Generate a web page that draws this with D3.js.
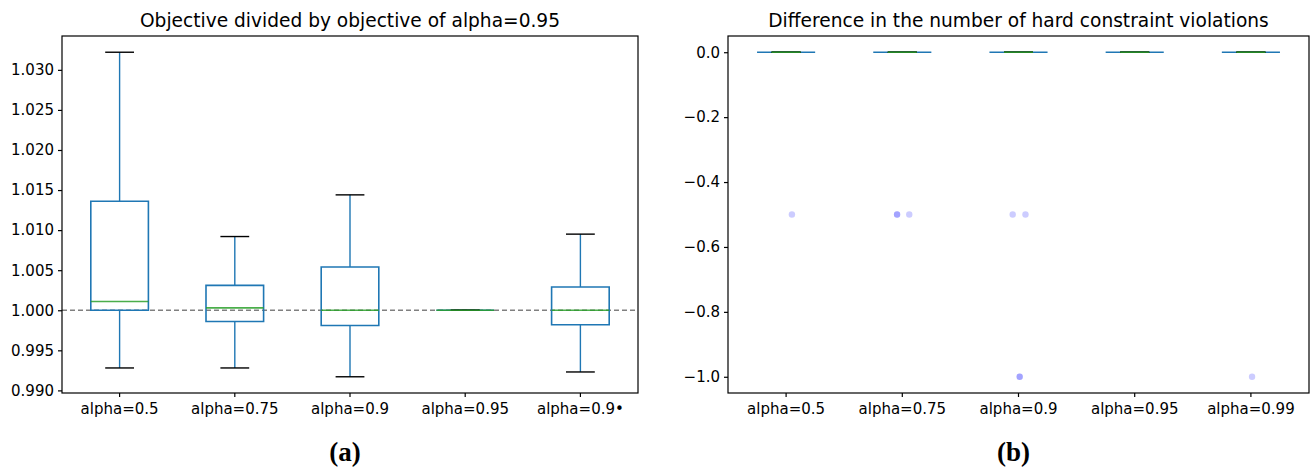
<!DOCTYPE html>
<html>
<head>
<meta charset="utf-8">
<script src="https://cdn.jsdelivr.net/npm/d3@7/dist/d3.min.js"></script>
<style>
  body { margin: 0; background: #fff; }
  svg { display: block; }
  text { font-family: "DejaVu Sans", sans-serif; fill: #000; }
</style>
</head>
<body>
<svg id="chart" width="1311" height="469"></svg>
<script>
// ---------- Data ----------
const categoriesA = ["alpha=0.5", "alpha=0.75", "alpha=0.9", "alpha=0.95", "alpha=0.9•"];
const whiskerLowA  = [0.9928, 0.9928, 0.9917, 1.0000, 0.9923];
const q1A          = [1.0000, 0.9986, 0.9981, 1.0000, 0.9982];
const medianA      = [1.0011, 1.0003, 1.0000, 1.0000, 1.0000];
const q3A          = [1.0136, 1.0031, 1.0054, 1.0000, 1.0029];
const whiskerHighA = [1.0322, 1.0092, 1.0144, 1.0000, 1.0095];
const yTicksA = [0.990, 0.995, 1.000, 1.005, 1.010, 1.015, 1.020, 1.025, 1.030];
const referenceLineA = 1.0;

const categoriesB = ["alpha=0.5", "alpha=0.75", "alpha=0.9", "alpha=0.95", "alpha=0.99"];
const whiskerLowB  = [0, 0, 0, 0, 0];
const q1B          = [0, 0, 0, 0, 0];
const medianB      = [0, 0, 0, 0, 0];
const q3B          = [0, 0, 0, 0, 0];
const whiskerHighB = [0, 0, 0, 0, 0];
const yTicksB = [0.0, -0.2, -0.4, -0.6, -0.8, -1.0];
// individual points (category, value, jitter in category units)
const pointCatB    = ["alpha=0.5", "alpha=0.75", "alpha=0.75", "alpha=0.75", "alpha=0.9", "alpha=0.9", "alpha=0.9", "alpha=0.9", "alpha=0.99"];
const pointValB    = [-0.5, -0.5, -0.5, -0.5, -0.5, -0.5, -1.0, -1.0, -1.0];
const pointJitterB = [0.05, -0.045, -0.045, 0.06, -0.05, 0.06, 0.01, 0.01, 0.01];

const titleA = "Objective divided by objective of alpha=0.95";
const titleB = "Difference in the number of hard constraint violations";

// ---------- Drawing ----------
const svg = d3.select("#chart");
const BLUE = "#1f77b4", GREEN = "#2ca02c";
const plotTop = 36, plotBottom = 393;

function boxPanel(opts) {
  const g = svg.append("g");
  const x = d3.scaleBand().domain(opts.cats).range([opts.left, opts.right]).paddingInner(0).paddingOuter(0);
  const y = d3.scaleLinear().domain(opts.yDomain).range([plotBottom, plotTop]);
  const bw = x.bandwidth();
  const cx = c => x(c) + bw / 2;
  const boxW = bw * 0.5, capW = bw * 0.25;

  if (opts.refLine !== undefined) {
    g.append("line")
      .attr("x1", opts.left).attr("x2", opts.right)
      .attr("y1", y(opts.refLine)).attr("y2", y(opts.refLine))
      .attr("stroke", "#808080").attr("stroke-width", 1.3)
      .attr("stroke-dasharray", "5,3");
  }

  opts.cats.forEach((c, i) => {
    const xc = cx(c);
    g.append("line").attr("x1", xc).attr("x2", xc)
      .attr("y1", y(opts.q1[i])).attr("y2", y(opts.lo[i]))
      .attr("stroke", BLUE).attr("stroke-width", 1.4);
    g.append("line").attr("x1", xc).attr("x2", xc)
      .attr("y1", y(opts.q3[i])).attr("y2", y(opts.hi[i]))
      .attr("stroke", BLUE).attr("stroke-width", 1.4);
    const x0 = xc - boxW / 2, x1 = xc + boxW / 2, yq3 = y(opts.q3[i]), yq1 = y(opts.q1[i]);
    g.append("path")
      .attr("d", `M${x0},${yq3}L${x1},${yq3}L${x1},${yq1}L${x0},${yq1}Z`)
      .attr("fill", "none").attr("stroke", BLUE).attr("stroke-width", 1.6);
    [opts.lo[i], opts.hi[i]].forEach(v => {
      g.append("line").attr("x1", xc - capW / 2).attr("x2", xc + capW / 2)
        .attr("y1", y(v)).attr("y2", y(v))
        .attr("stroke", "#000").attr("stroke-width", 1.4);
    });
    const mw = opts.flatMedianShort ? capW / 2 : boxW / 2;
    g.append("line").attr("x1", xc - mw).attr("x2", xc + mw)
      .attr("y1", y(opts.med[i])).attr("y2", y(opts.med[i]))
      .attr("stroke", GREEN).attr("stroke-width", 1.6).attr("stroke-opacity", 0.85);
  });

  if (opts.pts) {
    opts.pts.cat.forEach((c, i) => {
      g.append("circle")
        .attr("cx", cx(c) + opts.pts.jit[i] * bw)
        .attr("cy", y(opts.pts.val[i]))
        .attr("r", 3.2)
        .attr("fill", "#0000ff").attr("fill-opacity", 0.2);
    });
  }

  g.append("rect").attr("x", opts.left).attr("y", plotTop)
    .attr("width", opts.right - opts.left).attr("height", plotBottom - plotTop)
    .attr("fill", "none").attr("stroke", "#000").attr("stroke-width", 1.2);

  const yAxis = d3.axisLeft(y).tickValues(opts.yTicks).tickFormat(opts.fmt).tickSize(4).tickPadding(4);
  const ya = g.append("g").attr("transform", `translate(${opts.left},0)`).call(yAxis);
  ya.select(".domain").remove();
  ya.selectAll("line").attr("stroke", "#000").attr("stroke-width", 1.2);
  ya.selectAll("text").attr("font-size", 15).attr("font-family", "DejaVu Sans, sans-serif");

  const xAxis = d3.axisBottom(x).tickSize(4).tickPadding(6);
  const xa = g.append("g").attr("transform", `translate(0,${plotBottom})`).call(xAxis);
  xa.select(".domain").remove();
  xa.selectAll("line").attr("stroke", "#000").attr("stroke-width", 1.2);
  xa.selectAll("text").attr("font-size", 15).attr("font-family", "DejaVu Sans, sans-serif");

  g.append("text").attr("x", (opts.left + opts.right) / 2).attr("y", 27)
    .attr("text-anchor", "middle").attr("font-size", 18.6).text(opts.title);
  g.append("text").attr("x", (opts.left + opts.right) / 2 - 5).attr("y", 461)
    .attr("text-anchor", "middle")
    .style("font-family", "'Liberation Serif', 'Times New Roman', serif")
    .attr("font-weight", "bold").attr("font-size", 27).text(opts.label);
}

const fmt1 = d3.format(".1f");
boxPanel({
  cats: categoriesA, left: 62, right: 638,
  yDomain: [0.989675, 1.034225],
  lo: whiskerLowA, q1: q1A, med: medianA, q3: q3A, hi: whiskerHighA,
  yTicks: yTicksA, fmt: d3.format(".3f"),
  refLine: referenceLineA,
  title: titleA, label: "(a)"
});
boxPanel({
  cats: categoriesB, left: 728, right: 1309,
  yDomain: [-1.05, 0.05],
  lo: whiskerLowB, q1: q1B, med: medianB, q3: q3B, hi: whiskerHighB,
  yTicks: yTicksB, fmt: v => fmt1(v),
  flatMedianShort: true,
  pts: { cat: pointCatB, val: pointValB, jit: pointJitterB },
  title: titleB, label: "(b)"
});
</script>
</body>
</html>
